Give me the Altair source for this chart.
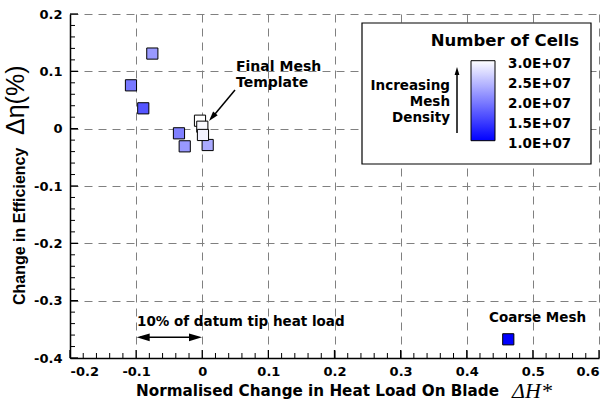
import altair as alt
import pandas as pd

# ---- data ----
heat_load = [-0.0755, -0.1078, -0.0892, -0.0352, -0.0265, 0.0082, -0.0034, 0.0001, 0.0011, 0.4628]
efficiency = [0.131, 0.0756, 0.0355, -0.0081, -0.0308, -0.0285, 0.0139, 0.0034, -0.011, -0.3674]
num_cells = [2.2e7, 1.94e7, 1.67e7, 2.0e7, 2.2e7, 2.33e7, 3.0e7, 2.95e7, 2.9e7, 1.0e7]

x_major = [-0.2, -0.1, 0.0, 0.1, 0.2, 0.3, 0.4, 0.5, 0.6]
y_major = [-0.4, -0.3, -0.2, -0.1, 0.0, 0.1, 0.2]
x_minor = [round(-0.2 + 0.02 * i, 2) for i in range(41) if i % 5 != 0]
y_minor = [round(-0.4 + 0.02 * i, 2) for i in range(31) if i % 5 != 0]
legend_values = [1.0e7, 1.5e7, 2.0e7, 2.5e7, 3.0e7]
legend_labels = ["1.0E+07", "1.5E+07", "2.0E+07", "2.5E+07", "3.0E+07"]

OX, OY = 70, 14  # plot origin on the page
W, H = 529, 344

FONT = "DejaVu Sans"

df = pd.DataFrame({"x": heat_load, "y": efficiency, "cells": num_cells})

xscale = alt.Scale(domain=[-0.2, 0.6], nice=False, zero=False)
yscale = alt.Scale(domain=[-0.4, 0.2], nice=False, zero=False)
xaxis = alt.Axis(values=x_major, title=None, grid=True, ticks=False,
                 labelExpr="toString(round(datum.value*10)/10)", labelPadding=7)
yaxis = alt.Axis(values=y_major, title=None, grid=True, ticks=False,
                 labelExpr="toString(round(datum.value*10)/10)", labelPadding=8)

# legend gradient geometry (page pixels)
G_TOP, G_LEN, G_X0, G_X1 = 60.7, 80.0, 471, 495

points = alt.Chart(df).mark_square(size=125, filled=True, stroke="black",
                                   strokeWidth=1, opacity=1).encode(
    x=alt.X("x:Q", scale=xscale, axis=xaxis),
    y=alt.Y("y:Q", scale=yscale, axis=yaxis),
    color=alt.Color(
        "cells:Q",
        scale=alt.Scale(domain=[1e7, 3e7], range=["#0000ff", "#ffffff"], interpolate="rgb"),
        legend=alt.Legend(
            title=None, orient="none", legendX=G_X0 - OX, legendY=G_TOP - OY,
            direction="vertical", gradientLength=G_LEN, gradientThickness=G_X1 - G_X0,
            values=legend_values, labelExpr="''",
            gradientStrokeColor="black", gradientStrokeWidth=1, padding=0,
        ),
    ),
)

# inward axis ticks
def xticks(vals, length, sw):
    return alt.Chart(pd.DataFrame({"x": vals})).mark_rule(color="black", strokeWidth=sw).encode(
        x=alt.X("x:Q", scale=xscale, axis=xaxis), y=alt.value(H), y2=alt.value(H - length))

def yticks(vals, length, sw):
    return alt.Chart(pd.DataFrame({"y": vals})).mark_rule(color="black", strokeWidth=sw).encode(
        y=alt.Y("y:Q", scale=yscale, axis=yaxis), x=alt.value(0), x2=alt.value(length))

one = pd.DataFrame({"d": [0]})

def text(t, px, py, size, align="left", weight="bold", font=FONT, angle=0, style="normal",
         line_height=None, baseline="alphabetic"):
    kw = dict(text=t, font=font, fontSize=size, fontWeight=weight, align=align,
              baseline=baseline, color="black", fontStyle=style)
    if angle:
        kw["angle"] = angle
    if line_height:
        kw["lineBreak"] = "\n"
        kw["lineHeight"] = line_height
    return alt.Chart(one).mark_text(**kw).encode(x=alt.value(px - OX), y=alt.value(py - OY))

def rule(x1, y1, x2, y2, sw=1.5, color="black"):
    return alt.Chart(one).mark_rule(color=color, strokeWidth=sw).encode(
        x=alt.value(x1 - OX), y=alt.value(y1 - OY), x2=alt.value(x2 - OX), y2=alt.value(y2 - OY))

ARROW = "M0,-1L0.6,1L-0.6,1Z"

def head(px, py, angle, size=100):
    return alt.Chart(one).mark_point(shape=ARROW, size=size, filled=True, color="black",
                                     opacity=1, angle=angle).encode(
        x=alt.value(px - OX), y=alt.value(py - OY))

legend_box = alt.Chart(one).mark_rect(fill="white", stroke="black", strokeWidth=1.2).encode(
    x=alt.value(362 - OX), x2=alt.value(591 - OX), y=alt.value(23 - OY), y2=alt.value(164 - OY))

def legend_y(v):
    return G_TOP + (3e7 - v) / 2e7 * G_LEN

legend_layers = []
for v, lab in zip(legend_values, legend_labels):
    legend_layers.append(text(lab, 508, legend_y(v) + 3, 13.5, baseline="middle"))
    if 1e7 < v < 3e7:
        legend_layers.append(rule(G_X0, legend_y(v), G_X1, legend_y(v), 1, "#222222"))

layers = [
    xticks(x_minor, 5, 1), xticks(x_major, 8, 1.3),
    yticks(y_minor, 5, 1), yticks(y_major, 8, 1.3),
    legend_box,
    text("Number of Cells", 579, 46, 16.5, align="right"),
    text("Increasing\nMesh\nDensity", 450, 90, 13.5, align="right", line_height=16),
    rule(457, 133, 457, 72, 1.5), head(457, 71, 0, 64),
    points,
    *legend_layers,
    text("Final Mesh\nTemplate", 236, 71, 14, line_height=16),
    rule(235, 90, 212.5, 117), head(212.2, 117.2, 220, 100),
    text("10% of datum tip heat load", 137, 326, 13.5),
    rule(140, 337.3, 198, 337.3), head(143.2, 337.3, 270, 169), head(195.5, 337.3, 90, 169),
    text("Coarse Mesh", 489, 322, 13.5),
    text("Normalised Change in Heat Load On Blade", 136, 396, 15.2),
    text("ΔH*", 532, 398, 22, align="center", weight="normal", font="Liberation Serif", style="italic"),
    text("Change in Efficiency", 25, 305, 16, weight="bold", font="Liberation Sans", angle=270),
    text("Δη(%)", 24, 135, 25, weight="normal", font="Liberation Sans", angle=270),
]

chart = alt.layer(*layers).properties(
    width=W, height=H,
    autosize=alt.AutoSizeParams(type="none"),
    padding={"left": OX, "top": OY, "right": 611 - OX - W, "bottom": 406 - OY - H},
).configure_view(stroke=None).configure_axis(
    labelFont=FONT, labelFontWeight="bold", labelFontSize=13, labelColor="black",
    domainColor="black", domainWidth=1.5, gridColor="#808080", gridDash=[8, 6], gridWidth=1,
)

chart.save("out.html", embed_options={"renderer": "svg", "actions": False})
